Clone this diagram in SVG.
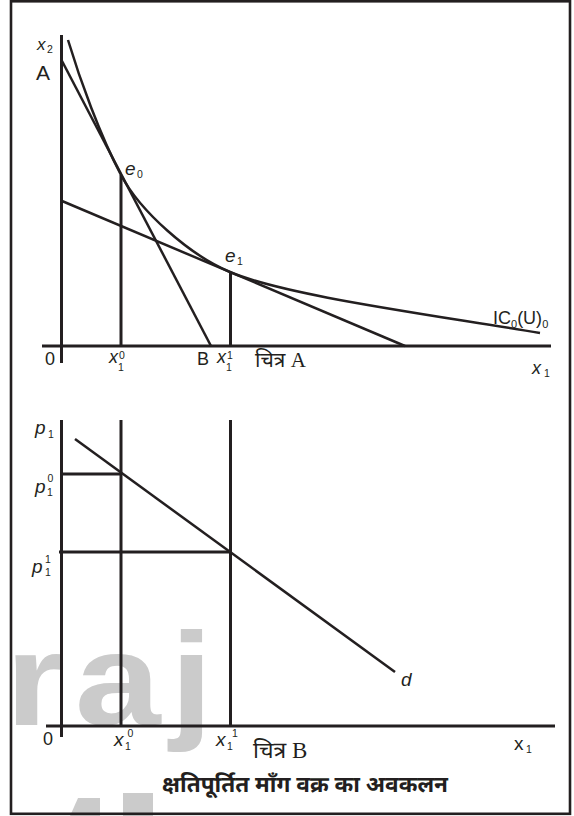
<svg xmlns="http://www.w3.org/2000/svg" width="574" height="816" viewBox="0 0 574 816">
<style>
.ax{stroke:#231f20;stroke-width:3;fill:none}
.ln{stroke:#231f20;stroke-width:2.5;fill:none;stroke-linecap:butt}
.t{font-family:'Liberation Sans',Arial,sans-serif;fill:#231f20}
.i{font-style:italic}
.s{font-size:10.5px}
.dev{font-family:'Noto Sans Devanagari','Noto Serif Devanagari','Lohit Devanagari','Mangal','FreeSerif',sans-serif;fill:#231f20}
.serif{font-family:'Liberation Serif','Times New Roman',serif}
.wm{font-family:'Liberation Sans',Arial,sans-serif;font-weight:bold;fill:#cbcbcb}
</style>
<rect width="574" height="816" fill="#ffffff"/>
<g id="watermark">
<text class="wm" transform="scale(1.17,1)" x="-70" y="725" font-size="132">e</text>
<text class="wm" transform="scale(1.17,1)" x="4.5" y="725" font-size="132" letter-spacing="8">raj</text>
<polygon points="70,816 78,798 100,798 100,816" fill="#cbcbcb"/>
<rect x="123" y="793" width="30" height="23" fill="#cbcbcb"/>
</g>
<rect id="frame" x="11" y="1.3" width="559" height="812.5" fill="none" stroke="#231f20" stroke-width="2.6"/>
<g id="chartA">
<g id="axesA">
<line class="ax" x1="61.5" y1="35" x2="61.5" y2="363"/>
<line class="ax" x1="42" y1="346" x2="551" y2="346"/>
<line class="ax" x1="121" y1="175" x2="121" y2="346"/>
<line class="ax" x1="230.5" y1="272" x2="230.5" y2="346"/>
</g>
<g id="linesA">
<line class="ln" x1="62" y1="61" x2="211" y2="346"/>
<line class="ln" x1="62" y1="201" x2="405" y2="346"/>
<path class="ln" d="M68,40 C80,80 100,135 121,175 C140,211 189,254.7 230,272 C285,295.3 420,313 540,333"/>
</g>
<g id="labelsA">
<text class="t i" x="37" y="50" font-size="17">x</text><text class="t s" x="47" y="53">2</text>
<text class="t" x="36" y="80" font-size="21">A</text>
<text class="t i" x="125" y="175" font-size="19">e</text><text class="t s" x="137" y="178">0</text>
<text class="t i" x="225" y="262" font-size="19">e</text><text class="t s" x="237" y="265">1</text>
<text class="t" x="45" y="365" font-size="18">0</text>
<text class="t i" x="109" y="363" font-size="18">x</text><text class="t s" x="118" y="371">1</text><text class="t s" x="119" y="359">0</text>
<text class="t" x="197" y="365" font-size="18">B</text>
<text class="t i" x="217" y="363" font-size="18">x</text><text class="t s" x="226" y="371">1</text><text class="t s" x="227" y="359">1</text>
<text x="255" y="367" font-size="21"><tspan class="dev">चित्र</tspan><tspan class="serif" fill="#231f20"> A</tspan></text>
<text class="t" x="493" y="324" font-size="18">IC<tspan font-size="11" dy="4">0</tspan><tspan dy="-4">(U)</tspan><tspan font-size="11" dy="4">0</tspan></text>
<text class="t i" x="532" y="374" font-size="18">x</text><text class="t s" x="544" y="377">1</text>
</g>
</g>
<g id="chartB">
<g id="axesB">
<line class="ax" x1="61.5" y1="420" x2="61.5" y2="737"/>
<line class="ax" x1="46" y1="726" x2="555" y2="726"/>
<line class="ax" x1="121" y1="420" x2="121" y2="726"/>
<line class="ax" x1="230.5" y1="420" x2="230.5" y2="726"/>
<line class="ax" x1="62" y1="474" x2="121" y2="474"/>
<line class="ax" x1="59" y1="552" x2="230" y2="552"/>
</g>
<g id="linesB">
<line class="ln" x1="75" y1="439" x2="395" y2="672"/>
</g>
<g id="labelsB">
<text class="t i" x="35" y="434" font-size="19">p</text><text class="t s" x="48" y="438">1</text>
<text class="t i" x="35" y="493" font-size="19">p</text><text class="t s" x="47" y="496">1</text><text class="t s" x="47.5" y="482">0</text>
<text class="t i" x="32" y="573" font-size="19">p</text><text class="t s" x="45" y="576">1</text><text class="t s" x="45" y="563">1</text>
<text class="t i" x="401" y="686" font-size="19">d</text>
<text class="t" x="43" y="745" font-size="18">0</text>
<text class="t i" x="114" y="746" font-size="19">x</text><text class="t s" x="125" y="750">1</text><text class="t s" x="127.5" y="737">0</text>
<text class="t i" x="216" y="746" font-size="19">x</text><text class="t s" x="227" y="750">1</text><text class="t s" x="232" y="737">1</text>
<text x="253" y="758" font-size="23"><tspan class="dev">चित्र</tspan><tspan class="serif" fill="#231f20"> B</tspan></text>
<text class="t" x="514" y="750" font-size="19">x</text><text class="t s" x="526" y="753">1</text>
</g>
</g>
<g id="caption">
<text class="dev" x="162" y="792" font-size="22" font-weight="bold" textLength="286" lengthAdjust="spacingAndGlyphs">क्षतिपूर्तित माँग वक्र का अवकलन</text>
</g>
</svg>
